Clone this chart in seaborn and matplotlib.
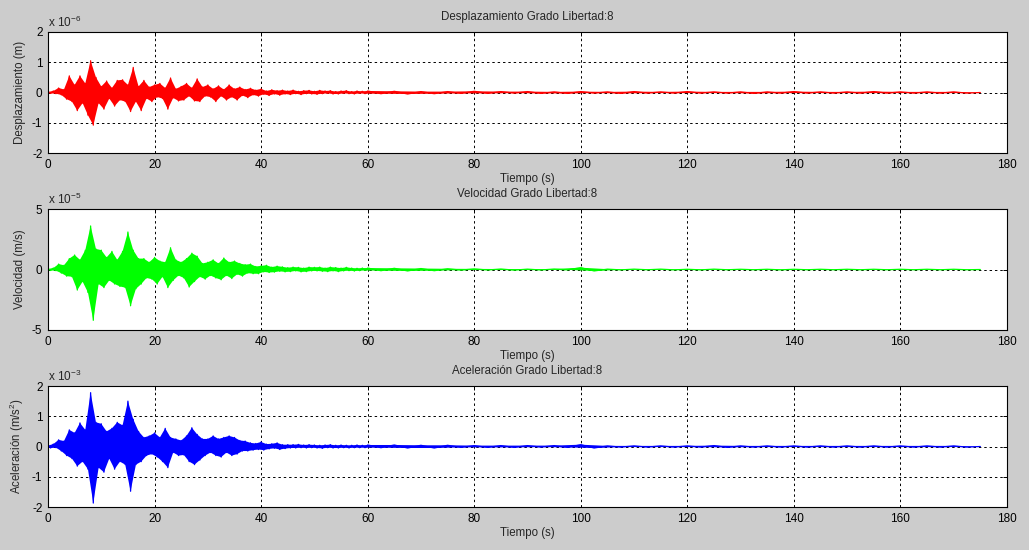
import numpy as np
import pandas as pd
import matplotlib
matplotlib.use("Agg")
import matplotlib.pyplot as plt
import seaborn as sns

# picos, muestreo 0.5 s hasta 60 s y 2.5 s en la cola
t_main = np.arange(0, 60, 0.5)
t_tail = np.arange(60, 175.01, 2.5)

# desplazamiento (x 1e-6 m)
disp_main = [
    0.02, -0.03, 0.05, -0.04, 0.15, -0.08, 0.10, -0.22, 0.55, -0.30,
    0.25, -0.60, 0.55, -0.35, 0.30, -0.75, 1.05, -1.08, 0.50, -0.35,
    0.20, -0.55, 0.38, -0.20, 0.15, -0.45, 0.40, -0.25, 0.42, -0.30,
    0.25, -0.63, 0.83, -0.30, 0.20, -0.60, 0.40, -0.20, 0.18, -0.30,
    0.25, -0.15, 0.30, -0.20, 0.15, -0.55, 0.48, -0.18, 0.12, -0.28,
    0.20, -0.25, 0.30, -0.12, 0.15, -0.28, 0.45, -0.30, 0.18, -0.12,
    0.25, -0.15, 0.12, -0.30, 0.22, -0.12, 0.10, -0.25, 0.25, -0.15,
    0.12, -0.25, 0.18, -0.10, 0.10, -0.17, 0.14, -0.08, 0.08, -0.12,
    0.12, -0.06, 0.05, -0.10, 0.09, -0.05, 0.06, -0.09, 0.08, -0.05,
    0.05, -0.07, 0.08, -0.04, 0.04, -0.07, 0.06, -0.04, 0.07, -0.05,
    0.04, -0.06, 0.07, -0.04, 0.05, -0.03, 0.06, -0.05, 0.03, -0.05,
    0.05, -0.03, 0.06, -0.04, 0.03, -0.05, 0.05, -0.03, 0.04, -0.04,
]
disp_tail = [
    0.05, -0.04, 0.04, -0.05, 0.03, -0.04, 0.03, -0.03, 0.04, -0.03,
    0.03, -0.02, 0.03, -0.03, 0.02, -0.03, 0.03, -0.02, 0.02, -0.03,
    0.03, -0.02, 0.02, -0.02, 0.03, -0.02, 0.02, -0.02, 0.02, -0.03,
    0.02, -0.02, 0.03, -0.02, 0.02, -0.02, 0.02, -0.02, 0.03, -0.02,
    0.02, -0.02, 0.02, -0.02, 0.02, -0.02, 0.0,
]

# velocidad (x 1e-5 m/s)
vel_main = [
    0.05, -0.08, 0.12, -0.10, 0.45, -0.30, 0.35, -0.55, 0.90, -0.60,
    1.20, -1.70, 0.80, -1.00, 1.60, -1.90, 3.60, -4.20, 1.70, -1.20,
    1.60, -1.50, 1.00, -0.90, 1.50, -1.20, 0.80, -1.40, 1.50, -1.50,
    3.10, -3.00, 1.60, -1.60, 0.90, -1.20, 0.90, -0.70, 0.60, -0.80,
    1.00, -1.20, 0.70, -0.60, 0.60, -1.50, 1.80, -0.90, 0.80, -0.50,
    0.60, -0.70, 0.90, -1.45, 1.35, -1.00, 1.10, -0.60, 0.50, -0.80,
    0.60, -0.50, 0.80, -0.70, 0.50, -0.85, 0.95, -0.50, 0.60, -0.75,
    0.70, -0.40, 0.50, -0.55, 0.40, -0.30, 0.45, -0.35, 0.25, -0.35,
    0.30, -0.20, 0.35, -0.25, 0.20, -0.22, 0.28, -0.15, 0.22, -0.20,
    0.15, -0.18, 0.20, -0.12, 0.18, -0.20, 0.12, -0.18, 0.20, -0.12,
    0.18, -0.12, 0.20, -0.15, 0.12, -0.18, 0.20, -0.12, 0.16, -0.18,
    0.12, -0.12, 0.18, -0.10, 0.12, -0.13, 0.10, -0.10, 0.12, -0.08,
]
vel_tail = [
    0.12, -0.10, 0.10, -0.12, 0.08, -0.10, 0.06, -0.05, 0.05, -0.04,
    0.04, -0.05, 0.03, -0.04, 0.04, -0.03, 0.15, -0.12, 0.03, -0.03,
    0.03, -0.02, 0.03, -0.03, 0.02, -0.03, 0.03, -0.02, 0.02, -0.02,
    0.02, -0.03, 0.02, -0.02, 0.02, -0.02, 0.02, -0.02, 0.02, -0.02,
    0.02, -0.02, 0.02, -0.02, 0.02, -0.02, 0.0,
]

# aceleracion (x 1e-3 m/s2)
acc_main = [
    0.03, -0.05, 0.08, -0.04, 0.22, -0.15, 0.18, -0.30, 0.55, -0.40,
    0.45, -0.65, 0.78, -0.50, 0.55, -0.75, 1.78, -1.87, 0.80, -0.70,
    0.75, -0.85, 0.50, -0.40, 0.60, -0.75, 0.80, -0.50, 0.70, -0.60,
    1.50, -1.48, 0.90, -0.60, 0.50, -0.50, 0.30, -0.30, 0.35, -0.25,
    0.45, -0.35, 0.30, -0.50, 0.60, -0.70, 0.30, -0.20, 0.25, -0.30,
    0.20, -0.28, 0.35, -0.50, 0.62, -0.60, 0.40, -0.45, 0.25, -0.30,
    0.25, -0.20, 0.35, -0.30, 0.25, -0.35, 0.30, -0.20, 0.35, -0.30,
    0.30, -0.25, 0.20, -0.15, 0.18, -0.15, 0.12, -0.12, 0.10, -0.10,
    0.15, -0.12, 0.08, -0.08, 0.09, -0.06, 0.12, -0.10, 0.06, -0.07,
    0.06, -0.05, 0.06, -0.05, 0.07, -0.04, 0.05, -0.05, 0.06, -0.04,
    0.05, -0.05, 0.04, -0.06, 0.05, -0.04, 0.06, -0.05, 0.04, -0.05,
    0.05, -0.04, 0.04, -0.05, 0.04, -0.04, 0.05, -0.04, 0.04, -0.04,
]
acc_tail = [
    0.05, -0.04, 0.05, -0.05, 0.04, -0.05, 0.04, -0.03, 0.03, -0.03,
    0.03, -0.03, 0.03, -0.02, 0.03, -0.03, 0.06, -0.05, 0.02, -0.02,
    0.02, -0.02, 0.02, -0.02, 0.02, -0.02, 0.03, -0.03, 0.02, -0.02,
    0.02, -0.02, 0.02, -0.02, 0.02, -0.02, 0.02, -0.02, 0.02, -0.02,
    0.02, -0.02, 0.02, -0.02, 0.02, -0.02, 0.0,
]

titles = ["Desplazamiento Grado Libertad:8", "Velocidad Grado Libertad:8",
          "Aceleración Grado Libertad:8"]
ylabels = ["Desplazamiento (m)", "Velocidad (m/s)", r"Aceleración (m/s$^2$)"]
exponents = ["-6", "-5", "-3"]
ylims = [2, 5, 2]
yticks = [[-2, -1, 0, 1, 2], [-5, 0, 5], [-2, -1, 0, 1, 2]]
xticks = list(range(0, 181, 20))
colors = ["#ff0000", "#00ff00", "#0000ff"]
series = [(disp_main, disp_tail), (vel_main, vel_tail), (acc_main, acc_tail)]

sns.set_style("white")
plt.rcParams["font.family"] = ["Liberation Sans", "DejaVu Sans"]
plt.rcParams["mathtext.fontset"] = "custom"
plt.rcParams["mathtext.rm"] = "Liberation Sans"
plt.rcParams["mathtext.it"] = "Liberation Sans"

fig = plt.figure(figsize=(10.29, 5.5), dpi=100, facecolor="#cccccc")

# posiciones de los ejes (fraccion de figura)
bottoms = [1 - 153 / 550, 1 - 330 / 550, 1 - 507 / 550]
left, width, height = 48 / 1029, 959 / 1029, 121 / 550

for i in range(3):
    ax = fig.add_axes([left, bottoms[i], width, height])
    ax.set_facecolor("white")
    main, tail = series[i]
    t = np.concatenate([t_main, t_tail])
    y = np.concatenate([main, tail])
    df = pd.DataFrame({"t": t, "y": y})

    # banda densa: picos positivos arriba, negativos abajo
    ax.fill(np.concatenate([t[0::2], t[1::2][::-1]]),
            np.concatenate([y[0::2], y[1::2][::-1]]),
            color=colors[i], linewidth=0, zorder=2)
    sns.lineplot(data=df, x="t", y="y", ax=ax, color=colors[i],
                 linewidth=0.9, estimator=None, sort=False, zorder=3)

    ax.set_xlim(0, 180)
    ax.set_ylim(-ylims[i], ylims[i])
    ax.set_xticks(xticks)
    ax.set_yticks(yticks[i])
    ax.set_yticklabels([str(v) for v in yticks[i]])
    ax.grid(True, color="black", linestyle=(0, (2.5, 3)), linewidth=0.7)
    ax.set_axisbelow(True)
    ax.tick_params(direction="in", length=3, width=0.7, labelsize=8.5,
                   top=True, right=True, colors="black", pad=4)
    for s in ax.spines.values():
        s.set_color("black")
        s.set_linewidth(0.8)
        s.set_zorder(5)

    ax.text(0.5, 1.12, titles[i], transform=ax.transAxes, ha="center",
            va="center", fontsize=8.3)
    ax.text(0.0, 1.02, r"x 10$^{" + exponents[i] + "}$", transform=ax.transAxes,
            ha="left", va="bottom", fontsize=8.5)
    ax.set_xlabel("Tiempo (s)", fontsize=8.3, labelpad=2)
    ax.set_ylabel(ylabels[i], fontsize=8.3, labelpad=4)

fig.savefig("out.png", dpi=100, facecolor=fig.get_facecolor())
